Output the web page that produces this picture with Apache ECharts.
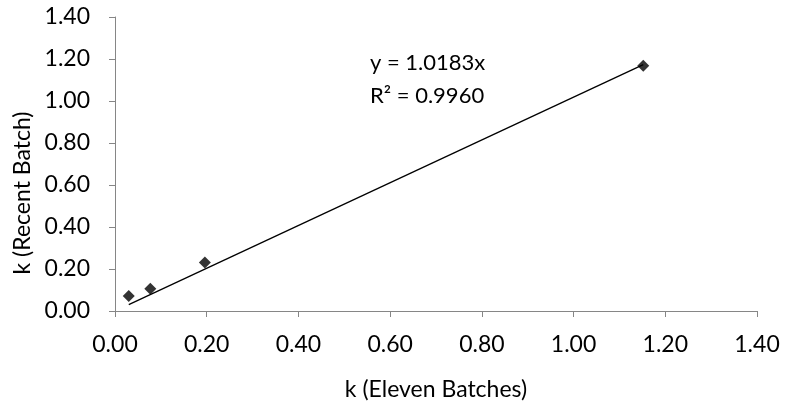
<!DOCTYPE html>
<html>
<head>
<meta charset="utf-8">
<script src="https://cdn.jsdelivr.net/npm/echarts@6/dist/echarts.min.js"></script>
<style>
html,body{margin:0;padding:0;background:#fff;}
#chart{width:788px;height:412px;}
</style>
</head>
<body>
<div id="chart"></div>
<script>
var elevenBatches = [0.030, 0.077, 0.196, 1.152];
var recentBatch = [0.071, 0.106, 0.231, 1.168];
var slope = 1.0183;
var equationText = 'y = 1.0183x';
var r2Text = 'R² = 0.9960';
var xTitle = 'k (Eleven Batches)';
var yTitle = 'k (Recent Batch)';

var points = elevenBatches.map(function (x, i) { return [x, recentBatch[i]]; });
var xMin = Math.min.apply(null, elevenBatches);
var xMax = Math.max.apply(null, elevenBatches);
var trend = [[xMin, slope * xMin], [xMax, slope * xMax]];

var font = 'Lato, "Open Sans", sans-serif';
var chart = echarts.init(document.getElementById('chart'));
var axisCommon = {
  min: 0, max: 1.4, interval: 0.2,
  splitLine: { show: false },
  axisLine: { show: true, onZero: false, lineStyle: { color: '#868686', width: 1 } },
  axisTick: { show: true, length: 6, lineStyle: { color: '#868686' } },
  axisLabel: { color: '#000', fontSize: 23, fontFamily: font,
    formatter: function (v) { return v.toFixed(2); } }
};
chart.setOption({
  animation: false,
  backgroundColor: '#fff',
  grid: { left: 115, right: 31, top: 17, bottom: 101 },
  xAxis: Object.assign({}, axisCommon, {
    type: 'value',
    name: xTitle, nameLocation: 'middle', nameGap: 67,
    nameTextStyle: { color: '#000', fontSize: 23, fontFamily: font },
    axisLabel: Object.assign({}, axisCommon.axisLabel, { margin: 22 })
  }),
  yAxis: Object.assign({}, axisCommon, {
    type: 'value',
    name: yTitle, nameLocation: 'middle', nameGap: 76,
    nameTextStyle: { color: '#000', fontSize: 23, fontFamily: font, padding: [0, 58, 0, 0] },
    axisLabel: Object.assign({}, axisCommon.axisLabel, { margin: 25 })
  }),
  series: [
    {
      type: 'line', data: trend, symbol: 'none',
      lineStyle: { color: '#000', width: 1.3 }, z: 2
    },
    {
      type: 'scatter', data: points, symbol: 'diamond', symbolSize: 12,
      itemStyle: { color: '#000' }, z: 3
    }
  ],
  graphic: [
    { type: 'text', left: 370, top: 52, style: { text: equationText, fill: '#000', font: '22px ' + font } },
    { type: 'text', left: 370, top: 85, style: { text: r2Text, fill: '#000', font: '22px ' + font } }
  ]
});
</script>
</body>
</html>
